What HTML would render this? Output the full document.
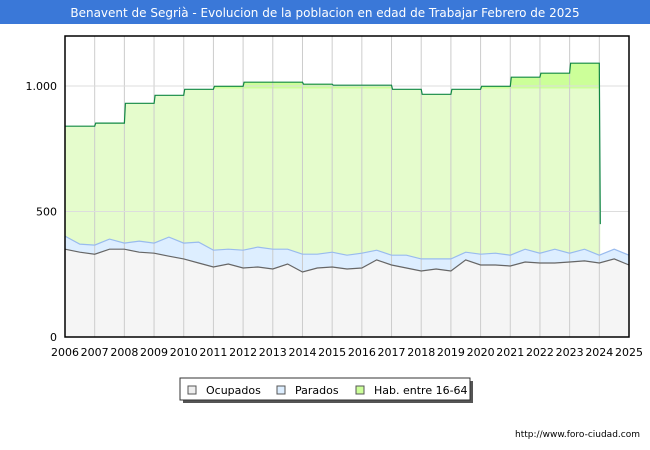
<!DOCTYPE html>
<html><head><meta charset="utf-8"><style>
body{margin:0;width:650px;height:450px;background:#fff;font-family:"DejaVu Sans","Liberation Sans",sans-serif;overflow:hidden}
</style></head><body>
<svg width="650" height="450" style="position:absolute;left:0;top:0" font-family="DejaVu Sans, Liberation Sans, sans-serif">
<rect x="0" y="0" width="650" height="24" fill="#3a78d8"/>
<text x="325" y="17" text-anchor="middle" font-size="12" fill="#fff">Benavent de Segrià - Evolucion de la poblacion en edad de Trabajar Febrero de 2025</text>
<g id="plot"></g>
<g>
<rect x="183" y="381" width="290" height="22" fill="#555"/>
<rect x="180" y="378" width="290" height="22" fill="#fff" stroke="#333"/>
<rect x="188" y="386" width="8" height="8" fill="#eee" stroke="#555"/>
<text x="206" y="394" font-size="11">Ocupados</text>
<rect x="277" y="386" width="8" height="8" fill="#ddeeff" stroke="#555"/>
<text x="295" y="394" font-size="11">Parados</text>
<rect x="356" y="386" width="8" height="8" fill="#ccff99" stroke="#555"/>
<text x="374" y="394" font-size="11">Hab. entre 16-64</text>
</g>
<text x="640" y="437" text-anchor="end" font-size="9" fill="#000">http://www.foro-ciudad.com</text>
</svg>
<script>
const yearTicks=[2006,2007,2008,2009,2010,2011,2012,2013,2014,2015,2016,2017,2018,2019,2020,2021,2022,2023,2024,2025];
const yTicks=[0,500,1000];
const yTickLabels=["0","500","1.000"];
const habYears=[2006,2007,2008,2009,2010,2011,2012,2013,2014,2015,2016,2017,2018,2019,2020,2021,2022,2023];
const habValues=[840,852,931,963,987,999,1015,1015,1007,1003,1003,987,967,987,999,1035,1051,1091];
const habEndValue=450;
const sampleTimes=[2006,2006.5,2007,2007.5,2008,2008.5,2009,2009.5,2010,2010.5,2011,2011.5,2012,2012.5,2013,2013.5,2014,2014.5,2015,2015.5,2016,2016.5,2017,2017.5,2018,2018.5,2019,2019.5,2020,2020.5,2021,2021.5,2022,2022.5,2023,2023.5,2024,2024.5,2025];
const paradosTop=[402,370,366,390,374,382,374,398,374,378,346,350,346,358,350,350,330,330,338,326,334,346,326,326,311,311,311,338,330,334,326,350,334,350,334,350,326,350,326];
const ocupados=[350,338,330,350,350,338,334,322,311,295,279,291,275,279,271,291,259,275,279,271,275,307,287,275,263,271,263,307,287,287,283,299,295,295,299,303,295,311,287];
const X0=65,X1=629,Y0=337,YT=36;
const xs=t=>X0+(t-2006)/(2025-2006)*(X1-X0);
const ys=v=>Y0-v/1000*(Y0-86);
const NS="http://www.w3.org/2000/svg";
const g=document.getElementById('plot');
function el(tag,attrs){const e=document.createElementNS(NS,tag);for(const k in attrs)e.setAttribute(k,attrs[k]);g.appendChild(e);return e;}
el('rect',{x:X0,y:YT,width:X1-X0,height:Y0-YT,fill:'#fff'});
let hp=[];
habYears.forEach((yr,i)=>{hp.push([xs(yr)+(i?1:0),ys(habValues[i])]);hp.push([xs(yr+1),ys(habValues[i])]);});
hp.push([xs(2024)+1,ys(habEndValue)]);
const hd='M'+xs(2006)+','+Y0+' '+hp.map(p=>'L'+p[0].toFixed(1)+','+p[1].toFixed(1)).join(' ')+' L'+(xs(2024)+1)+','+Y0+' Z';
const clipA=el('clipPath',{id:'above'});
const cr=document.createElementNS(NS,'rect');cr.setAttribute('x',0);cr.setAttribute('y',0);cr.setAttribute('width',650);cr.setAttribute('height',ys(990));clipA.appendChild(cr);
const hab=el('path',{d:hd,fill:'#e5fccc'});


const hab2=el('path',{d:hd,fill:'#ccff99','clip-path':'url(#above)'});


const pts=a=>a.map((v,i)=>xs(sampleTimes[i]).toFixed(1)+','+ys(v).toFixed(1));
const par=el('path',{d:'M'+pts(paradosTop).join(' L')+' L'+X1+','+Y0+' L'+X0+','+Y0+' Z',fill:'#ddeeff'});


const oc=el('path',{d:'M'+pts(ocupados).join(' L')+' L'+X1+','+Y0+' L'+X0+','+Y0+' Z',fill:'#f5f5f5'});


yearTicks.forEach(yr=>{const l=el('line',{x1:xs(yr),x2:xs(yr),y1:YT,y2:Y0,stroke:'#ccc','stroke-width':1});


const t=el('text',{x:xs(yr),y:Y0+19,'text-anchor':'middle','font-size':'11'});t.textContent=yr;

});
yTicks.forEach((v,i)=>{const l=el('line',{x1:X0,x2:X1,y1:ys(v),y2:ys(v),stroke:'#ddd'});


const t=el('text',{x:X0-8,y:ys(v)+4,'text-anchor':'end','font-size':'11'});t.textContent=yTickLabels[i];

});
const hl=el('polyline',{points:hp.map(p=>p[0].toFixed(1)+','+p[1].toFixed(1)).join(' '),fill:'none',stroke:'#118844','stroke-width':1.2});


const pl=el('polyline',{points:pts(paradosTop).join(' '),fill:'none',stroke:'#99bbee','stroke-width':1.2});


const ol=el('polyline',{points:pts(ocupados).join(' '),fill:'none',stroke:'#666','stroke-width':1.2});


const fr=el('rect',{x:X0,y:YT,width:X1-X0,height:Y0-YT,fill:'none',stroke:'#000','stroke-width':1.5});


</script>
</body></html>
